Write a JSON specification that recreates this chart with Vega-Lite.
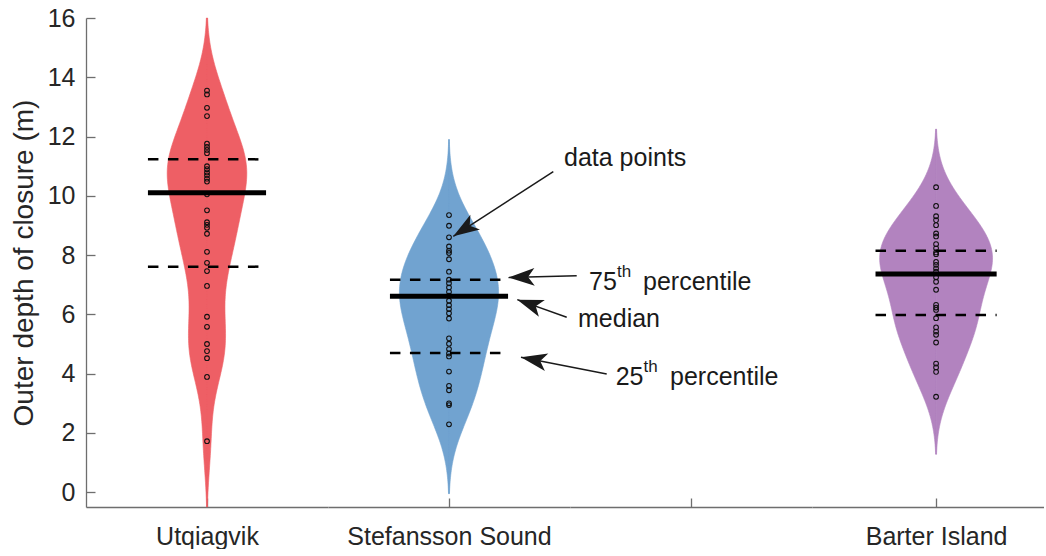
{
  "$schema": "https://vega.github.io/schema/vega-lite/v6.json",
  "background": "white",
  "padding": {"left": 10, "top": 6, "right": 0, "bottom": 0},
  "autosize": {"type": "pad"},
  "bounds": "flush",
  "spacing": 0,
  "datasets": {
    "pts": [
      {"site": "Utqiagvik", "depth": 13.55}, {"site": "Utqiagvik", "depth": 13.42}, {"site": "Utqiagvik", "depth": 12.97}, {"site": "Utqiagvik", "depth": 12.69},
      {"site": "Utqiagvik", "depth": 11.76}, {"site": "Utqiagvik", "depth": 11.65}, {"site": "Utqiagvik", "depth": 11.55}, {"site": "Utqiagvik", "depth": 11.44},
      {"site": "Utqiagvik", "depth": 11.0}, {"site": "Utqiagvik", "depth": 10.9}, {"site": "Utqiagvik", "depth": 10.79}, {"site": "Utqiagvik", "depth": 10.69},
      {"site": "Utqiagvik", "depth": 10.58}, {"site": "Utqiagvik", "depth": 10.48}, {"site": "Utqiagvik", "depth": 10.05}, {"site": "Utqiagvik", "depth": 9.51},
      {"site": "Utqiagvik", "depth": 9.11}, {"site": "Utqiagvik", "depth": 9.02}, {"site": "Utqiagvik", "depth": 8.92}, {"site": "Utqiagvik", "depth": 8.72},
      {"site": "Utqiagvik", "depth": 8.11}, {"site": "Utqiagvik", "depth": 7.74}, {"site": "Utqiagvik", "depth": 7.46}, {"site": "Utqiagvik", "depth": 6.96},
      {"site": "Utqiagvik", "depth": 5.92}, {"site": "Utqiagvik", "depth": 5.58}, {"site": "Utqiagvik", "depth": 5.0}, {"site": "Utqiagvik", "depth": 4.76},
      {"site": "Utqiagvik", "depth": 4.52}, {"site": "Utqiagvik", "depth": 3.89}, {"site": "Utqiagvik", "depth": 1.72},
      {"site": "Stefansson Sound", "depth": 9.35}, {"site": "Stefansson Sound", "depth": 8.99}, {"site": "Stefansson Sound", "depth": 8.6}, {"site": "Stefansson Sound", "depth": 8.29},
      {"site": "Stefansson Sound", "depth": 8.15}, {"site": "Stefansson Sound", "depth": 8.07}, {"site": "Stefansson Sound", "depth": 7.86}, {"site": "Stefansson Sound", "depth": 7.44},
      {"site": "Stefansson Sound", "depth": 7.17}, {"site": "Stefansson Sound", "depth": 7.05}, {"site": "Stefansson Sound", "depth": 6.91}, {"site": "Stefansson Sound", "depth": 6.76},
      {"site": "Stefansson Sound", "depth": 6.63}, {"site": "Stefansson Sound", "depth": 6.46}, {"site": "Stefansson Sound", "depth": 6.31}, {"site": "Stefansson Sound", "depth": 6.18},
      {"site": "Stefansson Sound", "depth": 6.04}, {"site": "Stefansson Sound", "depth": 5.86}, {"site": "Stefansson Sound", "depth": 5.19}, {"site": "Stefansson Sound", "depth": 5.01},
      {"site": "Stefansson Sound", "depth": 4.83}, {"site": "Stefansson Sound", "depth": 4.68}, {"site": "Stefansson Sound", "depth": 4.58}, {"site": "Stefansson Sound", "depth": 4.07},
      {"site": "Stefansson Sound", "depth": 3.59}, {"site": "Stefansson Sound", "depth": 3.44}, {"site": "Stefansson Sound", "depth": 3.0}, {"site": "Stefansson Sound", "depth": 2.94},
      {"site": "Stefansson Sound", "depth": 2.29},
      {"site": "Barter Island", "depth": 10.29}, {"site": "Barter Island", "depth": 9.66}, {"site": "Barter Island", "depth": 9.31}, {"site": "Barter Island", "depth": 9.18},
      {"site": "Barter Island", "depth": 9.01}, {"site": "Barter Island", "depth": 8.73}, {"site": "Barter Island", "depth": 8.63}, {"site": "Barter Island", "depth": 8.37},
      {"site": "Barter Island", "depth": 8.23}, {"site": "Barter Island", "depth": 8.09}, {"site": "Barter Island", "depth": 8.03}, {"site": "Barter Island", "depth": 7.77},
      {"site": "Barter Island", "depth": 7.67}, {"site": "Barter Island", "depth": 7.55}, {"site": "Barter Island", "depth": 7.44}, {"site": "Barter Island", "depth": 7.25},
      {"site": "Barter Island", "depth": 7.1}, {"site": "Barter Island", "depth": 6.83}, {"site": "Barter Island", "depth": 6.32}, {"site": "Barter Island", "depth": 6.23},
      {"site": "Barter Island", "depth": 6.15}, {"site": "Barter Island", "depth": 5.87}, {"site": "Barter Island", "depth": 5.56}, {"site": "Barter Island", "depth": 5.42},
      {"site": "Barter Island", "depth": 5.31}, {"site": "Barter Island", "depth": 5.05}, {"site": "Barter Island", "depth": 4.34}, {"site": "Barter Island", "depth": 4.21},
      {"site": "Barter Island", "depth": 4.06}, {"site": "Barter Island", "depth": 3.22}
    ],
    "stats": [
      {"site": "Utqiagvik", "stat": "median", "depth": 10.1},
      {"site": "Utqiagvik", "stat": "q3", "depth": 11.23},
      {"site": "Utqiagvik", "stat": "q1", "depth": 7.61},
      {"site": "Stefansson Sound", "stat": "median", "depth": 6.61},
      {"site": "Stefansson Sound", "stat": "q3", "depth": 7.17},
      {"site": "Stefansson Sound", "stat": "q1", "depth": 4.7},
      {"site": "Barter Island", "stat": "median", "depth": 7.36},
      {"site": "Barter Island", "stat": "q3", "depth": 8.15},
      {"site": "Barter Island", "stat": "q1", "depth": 5.98}
    ],
    "one": [{}]
  },
  "hconcat": [
    {
      "width": 242,
      "height": 489,
      "encoding": {
        "y": {"field": "depth", "type": "quantitative", "scale": {"domain": [-0.5, 16], "nice": false, "zero": false},
          "axis": {"values": [0, 2, 4, 6, 8, 10, 12, 14, 16], "title": "Outer depth of closure (m)", "labelPadding": 20, "titlePadding": 8, "minExtent": 40, "maxExtent": 40, "tickSize": -9}}
      },
      "resolve": {"scale": {"x": "independent"}},
      "layer": [
        {
          "data": {"name": "pts"},
          "transform": [{"filter": "datum.site === 'Utqiagvik'"}, {"density": "depth", "bandwidth": 1.1, "extent": [-0.5, 16], "steps": 200, "as": ["depth", "density"]}],
          "mark": {"type": "area", "orient": "horizontal", "color": "#EE5F65", "stroke": "#EE5F65", "strokeWidth": 0.6, "opacity": 1},
          "encoding": {"x": {"field": "density", "type": "quantitative", "stack": null, "scale": {"domain": [-0.42, 0.42], "reverse": true, "nice": false, "zero": false}, "axis": null}}
        },
        {
          "layer": [
            {
              "data": {"name": "pts"},
              "transform": [{"filter": "datum.site === 'Utqiagvik'"}, {"density": "depth", "bandwidth": 1.1, "extent": [-0.5, 16], "steps": 200, "as": ["depth", "density"]}],
              "mark": {"type": "area", "orient": "horizontal", "color": "#EE5F65", "stroke": "#EE5F65", "strokeWidth": 0.6, "opacity": 1},
              "encoding": {"x": {"field": "density", "type": "quantitative", "stack": null, "scale": {"domain": [-0.42, 0.42], "nice": false, "zero": false},
                "axis": {"values": [0], "title": null, "labelPadding": 26, "tickSize": -9, "labelExpr": "'Utqiagvik'"}}}
            },
            {
              "data": {"name": "pts"},
              "transform": [{"filter": "datum.site === 'Utqiagvik'"}],
              "mark": {"type": "point", "shape": "circle", "filled": false, "size": 22, "stroke": "#111111", "strokeWidth": 1.1, "opacity": 1},
              "encoding": {"x": {"datum": 0}}
            },
            {
              "data": {"name": "stats"},
              "transform": [{"filter": "datum.site === 'Utqiagvik' && datum.stat !== 'median'"}],
              "mark": {"type": "rule", "color": "#000000", "strokeWidth": 2.5, "strokeDash": [10.5, 9.5]},
              "encoding": {"x": {"datum": -0.205}, "x2": {"datum": 0.205}}
            },
            {
              "data": {"name": "stats"},
              "transform": [{"filter": "datum.site === 'Utqiagvik' && datum.stat === 'median'"}],
              "mark": {"type": "rule", "color": "#000000", "strokeWidth": 5},
              "encoding": {"x": {"datum": -0.205}, "x2": {"datum": 0.205}}
            }
          ]
        }
      ]
    },
    {
      "width": 242,
      "height": 489,
      "encoding": {
        "y": {"field": "depth", "type": "quantitative", "scale": {"domain": [-0.5, 16], "nice": false, "zero": false}, "axis": null}
      },
      "resolve": {"scale": {"x": "independent"}},
      "layer": [
        {
          "data": {"name": "pts"},
          "transform": [{"filter": "datum.site === 'Stefansson Sound'"}, {"density": "depth", "bandwidth": 1.05, "extent": [-0.05, 11.9], "steps": 200, "as": ["depth", "density"]}],
          "mark": {"type": "area", "orient": "horizontal", "color": "#71A3D0", "stroke": "#71A3D0", "strokeWidth": 0.6, "opacity": 1},
          "encoding": {"x": {"field": "density", "type": "quantitative", "stack": null, "scale": {"domain": [-0.42, 0.42], "reverse": true, "nice": false, "zero": false}, "axis": null}}
        },
        {
          "layer": [
            {
              "data": {"name": "pts"},
              "transform": [{"filter": "datum.site === 'Stefansson Sound'"}, {"density": "depth", "bandwidth": 1.05, "extent": [-0.05, 11.9], "steps": 200, "as": ["depth", "density"]}],
              "mark": {"type": "area", "orient": "horizontal", "color": "#71A3D0", "stroke": "#71A3D0", "strokeWidth": 0.6, "opacity": 1},
              "encoding": {"x": {"field": "density", "type": "quantitative", "stack": null, "scale": {"domain": [-0.42, 0.42], "nice": false, "zero": false},
                "axis": {"values": [0], "title": null, "labelPadding": 26, "tickSize": -9, "labelExpr": "'Stefansson Sound'"}}}
            },
            {
              "data": {"name": "pts"},
              "transform": [{"filter": "datum.site === 'Stefansson Sound'"}],
              "mark": {"type": "point", "shape": "circle", "filled": false, "size": 22, "stroke": "#111111", "strokeWidth": 1.1, "opacity": 1},
              "encoding": {"x": {"datum": 0}}
            },
            {
              "data": {"name": "stats"},
              "transform": [{"filter": "datum.site === 'Stefansson Sound' && datum.stat !== 'median'"}],
              "mark": {"type": "rule", "color": "#000000", "strokeWidth": 2.5, "strokeDash": [10.5, 9.5]},
              "encoding": {"x": {"datum": -0.205}, "x2": {"datum": 0.205}}
            },
            {
              "data": {"name": "stats"},
              "transform": [{"filter": "datum.site === 'Stefansson Sound' && datum.stat === 'median'"}],
              "mark": {"type": "rule", "color": "#000000", "strokeWidth": 5},
              "encoding": {"x": {"datum": -0.205}, "x2": {"datum": 0.205}}
            }
          ]
        }
      ]
    },
    {
      "width": 242,
      "height": 489,
      "layer": [
        {"data": {"name": "one"}, "mark": {"type": "point", "opacity": 0},
          "encoding": {
            "x": {"datum": 0, "type": "quantitative", "scale": {"domain": [-0.42, 0.42], "nice": false, "zero": false}, "axis": {"values": [0], "title": null, "labels": false, "tickSize": -9}},
            "y": {"datum": 0, "type": "quantitative", "scale": {"domain": [-0.5, 16], "nice": false, "zero": false}, "axis": null}
          }},
        {"data": {"name": "one"}, "mark": {"type": "rule", "color": "#1a1a1a", "strokeWidth": 1.5},
          "encoding": {"x": {"datum": -0.478}, "y": {"datum": 10.815, "axis": null}, "x2": {"datum": -0.8251}, "y2": {"datum": 8.635}}},
        {"data": {"name": "one"}, "mark": {"type": "point", "shape": "M0,0L0.68,2L0,1.5L-0.68,2Z", "size": 680, "filled": true, "color": "#1a1a1a", "opacity": 1, "angle": 237.1},
          "encoding": {"x": {"datum": -0.8251}, "y": {"datum": 8.635, "axis": null}}},
        {"data": {"name": "one"}, "mark": {"type": "rule", "color": "#1a1a1a", "strokeWidth": 1.5},
          "encoding": {"x": {"datum": -0.3967}, "y": {"datum": 7.305, "axis": null}, "x2": {"datum": -0.6335}, "y2": {"datum": 7.245}}},
        {"data": {"name": "one"}, "mark": {"type": "point", "shape": "M0,0L0.68,2L0,1.5L-0.68,2Z", "size": 680, "filled": true, "color": "#1a1a1a", "opacity": 1, "angle": 268.6},
          "encoding": {"x": {"datum": -0.6335}, "y": {"datum": 7.245, "axis": null}}},
        {"data": {"name": "one"}, "mark": {"type": "rule", "color": "#1a1a1a", "strokeWidth": 1.5},
          "encoding": {"x": {"datum": -0.4314}, "y": {"datum": 5.902, "axis": null}, "x2": {"datum": -0.6029}, "y2": {"datum": 6.496}}},
        {"data": {"name": "one"}, "mark": {"type": "point", "shape": "M0,0L0.68,2L0,1.5L-0.68,2Z", "size": 680, "filled": true, "color": "#1a1a1a", "opacity": 1, "angle": 289.6},
          "encoding": {"x": {"datum": -0.6029}, "y": {"datum": 6.496, "axis": null}}},
        {"data": {"name": "one"}, "mark": {"type": "rule", "color": "#1a1a1a", "strokeWidth": 1.5},
          "encoding": {"x": {"datum": -0.2926}, "y": {"datum": 3.988, "axis": null}, "x2": {"datum": -0.5901}, "y2": {"datum": 4.552}}},
        {"data": {"name": "one"}, "mark": {"type": "point", "shape": "M0,0L0.68,2L0,1.5L-0.68,2Z", "size": 680, "filled": true, "color": "#1a1a1a", "opacity": 1, "angle": 281},
          "encoding": {"x": {"datum": -0.5901}, "y": {"datum": 4.552, "axis": null}}},
        {"data": {"name": "one"}, "mark": {"type": "text", "text": "data points", "align": "left", "baseline": "middle", "fontSize": 25, "color": "#1a1a1a"},
          "encoding": {"x": {"datum": -0.4408}, "y": {"datum": 11.277, "axis": null}}},
        {"data": {"name": "one"}, "mark": {"type": "text", "text": "75", "align": "left", "baseline": "middle", "fontSize": 25, "color": "#1a1a1a"},
          "encoding": {"x": {"datum": -0.354}, "y": {"datum": 7.083, "axis": null}}},
        {"data": {"name": "one"}, "mark": {"type": "text", "text": "th", "align": "left", "baseline": "middle", "fontSize": 17, "color": "#1a1a1a"},
          "encoding": {"x": {"datum": -0.2569}, "y": {"datum": 7.43, "axis": null}}},
        {"data": {"name": "one"}, "mark": {"type": "text", "text": "percentile", "align": "left", "baseline": "middle", "fontSize": 25, "color": "#1a1a1a"},
          "encoding": {"x": {"datum": -0.1666}, "y": {"datum": 7.083, "axis": null}}},
        {"data": {"name": "one"}, "mark": {"type": "text", "text": "median", "align": "left", "baseline": "middle", "fontSize": 25, "color": "#1a1a1a"},
          "encoding": {"x": {"datum": -0.3922}, "y": {"datum": 5.844, "axis": null}}},
        {"data": {"name": "one"}, "mark": {"type": "text", "text": "25", "align": "left", "baseline": "middle", "fontSize": 25, "color": "#1a1a1a"},
          "encoding": {"x": {"datum": -0.2614}, "y": {"datum": 3.877, "axis": null}}},
        {"data": {"name": "one"}, "mark": {"type": "text", "text": "th", "align": "left", "baseline": "middle", "fontSize": 17, "color": "#1a1a1a"},
          "encoding": {"x": {"datum": -0.1649}, "y": {"datum": 4.225, "axis": null}}},
        {"data": {"name": "one"}, "mark": {"type": "text", "text": "percentile", "align": "left", "baseline": "middle", "fontSize": 25, "color": "#1a1a1a"},
          "encoding": {"x": {"datum": -0.0729}, "y": {"datum": 3.877, "axis": null}}}
      ]
    },
    {
      "width": 232,
      "height": 489,
      "encoding": {
        "y": {"field": "depth", "type": "quantitative", "scale": {"domain": [-0.5, 16], "nice": false, "zero": false}, "axis": null}
      },
      "resolve": {"scale": {"x": "independent"}},
      "layer": [
        {
          "data": {"name": "pts"},
          "transform": [{"filter": "datum.site === 'Barter Island'"}, {"density": "depth", "bandwidth": 0.88, "extent": [1.28, 12.25], "steps": 200, "as": ["depth", "density"]}],
          "mark": {"type": "area", "orient": "horizontal", "color": "#B283BF", "stroke": "#B283BF", "strokeWidth": 0.6, "opacity": 1},
          "encoding": {"x": {"field": "density", "type": "quantitative", "stack": null, "scale": {"domain": [-0.36529, 0.42], "reverse": true, "nice": false, "zero": false}, "axis": null}}
        },
        {
          "layer": [
            {
              "data": {"name": "pts"},
              "transform": [{"filter": "datum.site === 'Barter Island'"}, {"density": "depth", "bandwidth": 0.88, "extent": [1.28, 12.25], "steps": 200, "as": ["depth", "density"]}],
              "mark": {"type": "area", "orient": "horizontal", "color": "#B283BF", "stroke": "#B283BF", "strokeWidth": 0.6, "opacity": 1},
              "encoding": {"x": {"field": "density", "type": "quantitative", "stack": null, "scale": {"domain": [-0.42, 0.36529], "nice": false, "zero": false},
                "axis": {"values": [0], "title": null, "labelPadding": 26, "tickSize": -9, "labelExpr": "'Barter Island'"}}}
            },
            {
              "data": {"name": "pts"},
              "transform": [{"filter": "datum.site === 'Barter Island'"}],
              "mark": {"type": "point", "shape": "circle", "filled": false, "size": 22, "stroke": "#111111", "strokeWidth": 1.1, "opacity": 1},
              "encoding": {"x": {"datum": 0}}
            },
            {
              "data": {"name": "stats"},
              "transform": [{"filter": "datum.site === 'Barter Island' && datum.stat !== 'median'"}],
              "mark": {"type": "rule", "color": "#000000", "strokeWidth": 2.5, "strokeDash": [10.5, 9.5]},
              "encoding": {"x": {"datum": -0.205}, "x2": {"datum": 0.205}}
            },
            {
              "data": {"name": "stats"},
              "transform": [{"filter": "datum.site === 'Barter Island' && datum.stat === 'median'"}],
              "mark": {"type": "rule", "color": "#000000", "strokeWidth": 5},
              "encoding": {"x": {"datum": -0.205}, "x2": {"datum": 0.205}}
            }
          ]
        }
      ]
    }
  ],
  "config": {
    "font": "Liberation Sans",
    "view": {"stroke": null},
    "axis": {
      "grid": false,
      "domainColor": "#6e6e6e",
      "domainWidth": 1.3,
      "tickColor": "#6e6e6e",
      "tickWidth": 1.3,
      "labelFont": "Liberation Sans",
      "labelFontSize": 25,
      "labelLimit": 0,
      "labelColor": "#262626",
      "titleFont": "Liberation Sans",
      "titleFontSize": 28,
      "titleFontWeight": "normal",
      "titleColor": "#262626"
    }
  }
}
